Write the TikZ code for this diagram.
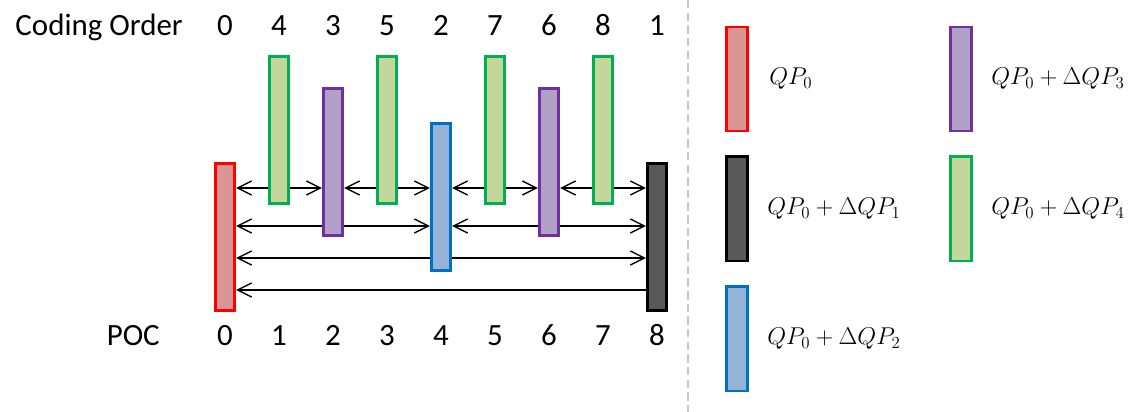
\documentclass[tikz,border=0pt]{standalone}
\usepackage{fontspec}
\setmainfont{Carlito}
\usetikzlibrary{arrows.meta,positioning,backgrounds}
\definecolor{RedLine}{RGB}{255,0,0}
\definecolor{RedFill}{RGB}{217,150,148}
\definecolor{GreenLine}{RGB}{0,176,80}
\definecolor{GreenFill}{RGB}{195,214,155}
\definecolor{PurpleLine}{RGB}{112,48,160}
\definecolor{PurpleFill}{RGB}{178,161,199}
\definecolor{BlueLine}{RGB}{0,112,192}
\definecolor{BlueFill}{RGB}{149,179,215}
\definecolor{DarkFill}{RGB}{89,89,89}
\definecolor{SepGray}{RGB}{200,200,200}

\begin{document}
\begin{tikzpicture}[
    x=0.025cm, y=-0.025cm,
    bar/.style={draw, line width=2.1pt, inner sep=0pt,
                minimum width=0.48cm, minimum height=3.675cm},
    key/.style={bar, minimum width=0.525cm, minimum height=2.6cm},
    redbar/.style={fill=RedFill, draw=RedLine},
    greenbar/.style={fill=GreenFill, draw=GreenLine},
    purplebar/.style={fill=PurpleFill, draw=PurpleLine},
    bluebar/.style={fill=BlueFill, draw=BlueLine},
    darkbar/.style={fill=DarkFill, draw=black},
    lbl/.style={font=\fontsize{22}{26}\selectfont, inner sep=0pt,
                text height=1.55ex, text depth=0.45ex},
    qp/.style={font=\fontsize{18.5}{22}\selectfont, inner sep=0pt, anchor=west},
    tip/.tip={Straight Barb[length=3.5mm, width=3.5mm]},
    arr/.style={tip-tip, line width=1pt},
    oneway/.style={-tip, line width=1pt}
  ]
    \useasboundingbox (0,0) rectangle (1141,412);

    % Frames in POC order
    \node[bar, redbar]    (poc0) at (225,237) {};
    \node[bar, greenbar]  (poc1) at (279,130) {};
    \node[bar, purplebar] (poc2) at (333,162) {};
    \node[bar, greenbar]  (poc3) at (387,130) {};
    \node[bar, bluebar]   (poc4) at (441,197) {};
    \node[bar, greenbar]  (poc5) at (495,130) {};
    \node[bar, purplebar] (poc6) at (549,162) {};
    \node[bar, greenbar]  (poc7) at (603,130) {};
    \node[bar, darkbar]   (poc8) at (657,237) {};

    % Coding order row
    \node[lbl, anchor=east] (hdr) at (183,32) {Coding Order};
    \node[lbl] (c0) at (poc0 |- hdr) {0};
    \node[lbl] (c1) at (poc1 |- hdr) {4};
    \node[lbl] (c2) at (poc2 |- hdr) {3};
    \node[lbl] (c3) at (poc3 |- hdr) {5};
    \node[lbl] (c4) at (poc4 |- hdr) {2};
    \node[lbl] (c5) at (poc5 |- hdr) {7};
    \node[lbl] (c6) at (poc6 |- hdr) {6};
    \node[lbl] (c7) at (poc7 |- hdr) {8};
    \node[lbl] (c8) at (poc8 |- hdr) {1};

    % POC row
    \node[lbl, anchor=east] (poc) at (160,342) {POC};
    \node[lbl] (p0) at (poc0 |- poc) {0};
    \node[lbl] (p1) at (poc1 |- poc) {1};
    \node[lbl] (p2) at (poc2 |- poc) {2};
    \node[lbl] (p3) at (poc3 |- poc) {3};
    \node[lbl] (p4) at (poc4 |- poc) {4};
    \node[lbl] (p5) at (poc5 |- poc) {5};
    \node[lbl] (p6) at (poc6 |- poc) {6};
    \node[lbl] (p7) at (poc7 |- poc) {7};
    \node[lbl] (p8) at (poc8 |- poc) {8};

    % Reference arrows, behind the frames
    \coordinate (r1) at (0,188);
    \coordinate (r2) at (0,226);
    \coordinate (r3) at (0,258);
    \coordinate (r4) at (0,290);
    \begin{pgfonlayer}{background}
      \draw[arr] (poc0.east |- r1) -- (poc2.west |- r1);
      \draw[arr] (poc2.east |- r1) -- (poc4.west |- r1);
      \draw[arr] (poc4.east |- r1) -- (poc6.west |- r1);
      \draw[arr] (poc6.east |- r1) -- (poc8.west |- r1);
      \draw[arr] (poc0.east |- r2) -- (poc4.west |- r2);
      \draw[arr] (poc4.east |- r2) -- (poc8.west |- r2);
      \draw[arr] (poc0.east |- r3) -- (poc8.west |- r3);
      \draw[oneway] (poc8.west |- r4) -- (poc0.east |- r4);
    \end{pgfonlayer}

    % Separator
    \draw[SepGray, line width=1.3pt, dash pattern=on 6pt off 3pt] (688,0) -- (688,412);

    % Legend
    \node[key, redbar] (keyred) at (737,79) {};
    \node[key, darkbar, below=0.575cm of keyred] (keydark) {};
    \node[key, bluebar, below=0.575cm of keydark] (keyblue) {};
    \node[key, purplebar, right=5.0cm of keyred] (keypurple) {};
    \node[key, greenbar, below=0.575cm of keypurple] (keygreen) {};

    \node[qp, right=0.5cm of keyred]     (qpred)    {$QP_0$};
    \node[qp, right=0.45cm of keydark]   (qpdark)   {$QP_0+\Delta QP_1$};
    \node[qp, right=0.45cm of keyblue]   (qpblue)   {$QP_0+\Delta QP_2$};
    \node[qp, right=0.45cm of keypurple] (qppurple) {$QP_0+\Delta QP_3$};
    \node[qp, right=0.45cm of keygreen]  (qpgreen)  {$QP_0+\Delta QP_4$};
\end{tikzpicture}
\end{document}
